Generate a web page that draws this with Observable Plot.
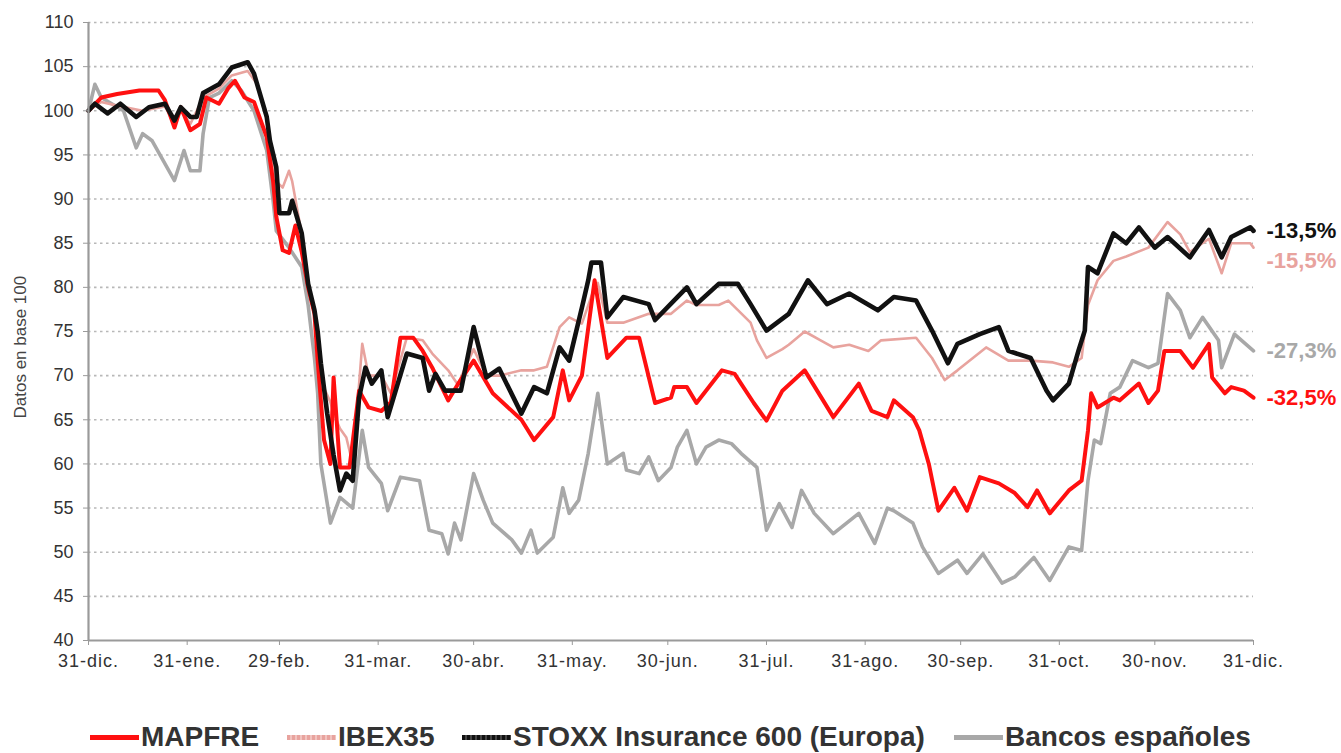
<!DOCTYPE html>
<html>
<head>
<meta charset="utf-8">
<script src="https://cdn.jsdelivr.net/npm/d3@7"></script>
<script src="https://cdn.jsdelivr.net/npm/@observablehq/plot@0.6"></script>
<style>
  html, body { margin: 0; padding: 0; background: #fff; }
  #wrap { position: relative; width: 1341px; height: 753px; font-family: "Liberation Sans", Arial, sans-serif; }
  #legend { position: absolute; left: 0; top: 722px; width: 1341px; height: 30px; }
  .item { position: absolute; top: 0; height: 30px; display: flex; align-items: center; font-weight: bold; font-size: 28px; color: #333; white-space: nowrap; }
  .sw { width: 49px; height: 5px; margin-right: 2px; }
</style>
</head>
<body>
<div id="wrap">
  <div id="chart"></div>
  <div id="legend"></div>
</div>
<script>
// ---- Data (days after 31-dic-2019, value in base 100) ----
const startDate = new Date(Date.UTC(2019, 11, 31));
const endDate = new Date(Date.UTC(2020, 11, 31));

const seriesNames = ["MAPFRE", "IBEX35", "STOXX Insurance 600 (Europa)", "Bancos españoles"];
const seriesColors = ["#ff1010", "#e8a39e", "#111111", "#a8a8a8"];
const endLabels = ["-32,5%", "-15,5%", "-13,5%", "-27,3%"];

const mapfreDays = [0,4,9,16,22,24,27,29,32,35,37,41,44,46,49,52,56,58,59,61,63,65,67,69,71,72,74,76,77,79,82,85,88,92,95,98,102,105,108,113,116,121,127,136,140,146,149,151,155,159,163,169,173,178,183,184,188,191,199,203,209,213,218,225,234,242,246,251,253,259,261,264,267,272,276,280,286,291,295,298,302,308,312,314,315,317,322,324,330,333,336,338,343,347,352,353,357,359,363,366];
const mapfreVals = [100,101.5,101.9,102.3,102.3,101.2,98.1,100.4,97.8,98.5,101.5,100.8,102.6,103.4,101.5,101,97,92,88,84.2,83.9,87,84,80,77,71.7,62.7,60,69.8,59.6,59.6,68.3,66.4,66,67,74.3,74.3,72.8,70.9,67.2,69,71.7,68,65,62.7,65.3,70.6,67.2,70,80.8,72,74.3,74.3,66.9,67.5,68.7,68.7,66.9,70.6,70.2,66.9,64.9,68.3,70.6,65.3,69.1,66,65.3,67.2,65.3,63.8,60,54.7,57.3,54.7,58.5,57.8,56.7,55.1,57,54.4,57,58.1,63.8,68,66.4,67.5,67.2,69.1,66.9,68.3,72.8,72.8,70.9,73.6,69.8,68,68.7,68.3,67.5];

const ibexDays = [0,4,10,17,24,27,29,32,36,41,45,50,53,56,57,59,61,63,64,67,69,71,73,74,76,77,79,81,83,85,86,88,92,95,100,105,108,113,116,121,125,129,136,140,144,148,151,155,158,160,163,168,176,183,188,191,198,201,208,210,213,218,220,225,230,234,239,245,249,260,265,269,273,282,289,296,303,308,312,314,317,322,326,333,339,343,346,352,356,359,365,366];
const ibexVals = [100,101,100.5,100,100.5,98.5,100,98.5,101.5,102.5,104,104.5,103,99,96,92,91.3,93.2,92,86,80,77,70,68.6,67,65.7,64,63,60,69,73.6,70,70,68,74.3,74,72.5,70.6,69,73,70,70,70.6,70.6,71,75.5,76.6,75.9,79,80.5,76,76,77,77,78.5,78,78,78.5,76,74,72,73,73.5,75,74,73.2,73.5,72.8,74,74.3,72,69.5,70.6,73.2,71.7,71.7,71.5,71,72,78,80.8,83,83.5,84.5,87.4,86,84,85.5,81.6,85,85,84.5];

const stoxxDays = [0,2,6,10,15,19,24,27,29,32,34,36,39,41,45,50,52,56,57,59,60,63,64,67,69,71,72,73,75,77,79,81,83,85,87,89,92,94,100,105,107,109,112,117,121,125,129,136,140,144,148,151,155,157,158,161,163,168,176,178,185,188,191,198,204,208,213,220,226,232,239,248,253,260,265,270,273,280,286,289,296,301,303,308,311,313,314,317,322,326,330,335,339,346,352,356,359,365,366];
const stoxxVals = [100,100.8,99.7,100.8,99.3,100.4,100.8,98.9,100.4,99.3,99.3,102,102.6,103,104.9,105.5,104.2,99.3,96.6,93.6,88.4,88.4,89.8,86.1,80.4,77.4,75,71.4,65.7,61,57,58.9,58.1,67.5,70.9,69.1,70.6,65.3,72.5,72,68.3,70.2,68.3,68.3,75.5,69.8,70.8,65.7,68.7,68,73.2,71.7,77.7,80.8,82.8,82.8,76.6,78.9,78.1,76.3,78.9,80,78.1,80.4,80.4,78.1,75.1,77,80.8,78.1,79.3,77.4,78.9,78.5,75.1,71.4,73.6,74.7,75.5,72.8,72,68.3,67.2,69.1,72.8,75.1,82.3,81.6,86.1,85,86.8,84.5,85.7,83.4,86.5,83.4,85.7,86.8,86.4];

const bancosDays = [0,2,4,11,15,17,20,27,30,32,35,36,38,41,45,48,52,56,58,59,63,67,69,71,72,73,76,79,83,86,88,92,94,98,104,107,111,113,115,117,121,124,127,133,136,139,141,146,149,151,154,157,160,163,168,169,173,176,179,183,185,188,191,194,198,202,205,210,213,217,221,224,228,234,242,247,251,253,259,262,267,273,276,281,287,291,297,302,308,312,314,316,318,321,324,328,333,336,339,343,346,350,355,356,360,366];
const bancosVals = [100,103,101.5,100,95.8,97.4,96.6,92.1,95.5,93.2,93.2,97.4,101.5,102,103.4,102.3,100,95.5,89.8,86.4,84.5,82.3,78,72,68,60,53.3,56.2,55,63.8,59.6,57.8,54.7,58.5,58.1,52.5,52.1,49.8,53.3,51.4,58.9,55.9,53.3,51.4,49.9,52.5,49.9,51.7,57.3,54.4,55.9,61.2,68,60,61.2,59.3,58.9,60.8,58.1,59.6,61.9,63.8,60,61.9,62.7,62.3,61.2,59.6,52.5,55.5,52.8,57,54.4,52.1,54.4,51,55,54.7,53.3,50.6,47.6,49.1,47.6,49.8,46.5,47.2,49.4,46.8,50.6,50.2,58.1,62.7,62.3,68,68.7,71.7,70.9,71.4,79.3,77.4,74.3,76.6,74,70.9,74.7,72.8];

const yTicks = [40,45,50,55,60,65,70,75,80,85,90,95,100,105,110];
const xTickDates = ["2019-12-31","2020-01-31","2020-02-29","2020-03-31","2020-04-30","2020-05-31","2020-06-30","2020-07-31","2020-08-31","2020-09-30","2020-10-31","2020-11-30","2020-12-31"];
const xTickLabels = ["31-dic.","31-ene.","29-feb.","31-mar.","30-abr.","31-may.","30-jun.","31-jul.","31-ago.","30-sep.","31-oct.","30-nov.","31-dic."];
const yTitle = "Datos en base 100";

// ---- Build tables ----
const dayList = [mapfreDays, ibexDays, stoxxDays, bancosDays];
const valList = [mapfreVals, ibexVals, stoxxVals, bancosVals];
const series = seriesNames.map((name, k) => dayList[k].map((d, i) => ({
  name, date: d3.utcDay.offset(startDate, d), value: valList[k][i]
})));
const tickDates = xTickDates.map(s => new Date(s + "T00:00:00Z"));
const tickMap = new Map(tickDates.map((d, i) => [+d, xTickLabels[i]]));
const lastPts = series.map((s, k) => ({...s[s.length - 1], label: endLabels[k], color: seriesColors[k]}));

const widths = [4, 2.6, 4.6, 3.6];
const drawOrder = [3, 1, 0, 2];

const chart = Plot.plot({
  width: 1341,
  height: 690,
  marginLeft: 88,
  marginRight: 88,
  marginTop: 22,
  marginBottom: 50,
  style: {fontFamily: "'Liberation Sans', Arial, sans-serif", fontSize: "18px", color: "#333", background: "#fff"},
  x: {type: "utc", domain: [startDate, endDate]},
  y: {domain: [40, 110]},
  marks: [
    Plot.ruleY(yTicks.filter(v => v > 40), {stroke: "#b8b8b8", strokeWidth: 1.6, strokeDasharray: "2.5,3.5"}),
    ...drawOrder.map(k => Plot.line(series[k], {
      x: "date", y: "value", stroke: seriesColors[k], strokeWidth: widths[k],
      strokeLinejoin: "round", strokeLinecap: "round"
    })),
    Plot.ruleX([startDate], {y1: 40, y2: 110, stroke: "#9a9a9a", strokeWidth: 2.2}),
    Plot.ruleY([40], {stroke: "#9a9a9a", strokeWidth: 2.2}),
    Plot.axisY({ticks: yTicks, tickSize: 5, tickPadding: 10, label: null, stroke: "#9a9a9a", fontSize: 18}),
    Plot.axisX({ticks: tickDates, tickFormat: d => tickMap.get(+d), tickSize: 5, tickPadding: 9, label: null, stroke: "#9a9a9a", fontSize: 18}),
    Plot.text([yTitle], {frameAnchor: "left", rotate: -90, dx: -68, dy: 87, fontSize: 17, fill: "#444", text: d => d}),
    Plot.text(lastPts, {
      x: "date", y: "value", text: "label", fill: "color", dx: 13,
      textAnchor: "start", fontWeight: "bold", fontSize: 22
    })
  ]
});
document.getElementById("chart").appendChild(chart);

// axis tick labels slightly wider, like the reference
chart.querySelectorAll("[aria-label='x-axis tick label'] text").forEach(t => t.setAttribute("letter-spacing", "1"));
// nudge the IBEX label below the STOXX one
chart.querySelectorAll("text").forEach(t => {
  if (t.textContent === endLabels[1]) t.setAttribute("dy", "0.62em");
});

// ---- Legend ----
const legendLeft = [90, 287, 462, 954];
const swatchStyles = [
  "background:#ff1010;height:5px",
  "background:repeating-linear-gradient(90deg,#e8a39e 0 3px,#f2c4c0 3px 5px);height:5px",
  "background:repeating-linear-gradient(90deg,#111 0 3px,#444 3px 5px);height:5px",
  "background:#a8a8a8;height:5px"
];
const legend = document.getElementById("legend");
seriesNames.forEach((name, k) => {
  const it = document.createElement("div");
  it.className = "item";
  it.style.left = legendLeft[k] + "px";
  const sw = document.createElement("span");
  sw.className = "sw";
  sw.setAttribute("style", swatchStyles[k]);
  sw.style.width = "49px";
  sw.style.marginRight = "2px";
  sw.style.display = "inline-block";
  const tx = document.createElement("span");
  tx.textContent = name;
  it.appendChild(sw);
  it.appendChild(tx);
  legend.appendChild(it);
});
</script>
</body>
</html>
